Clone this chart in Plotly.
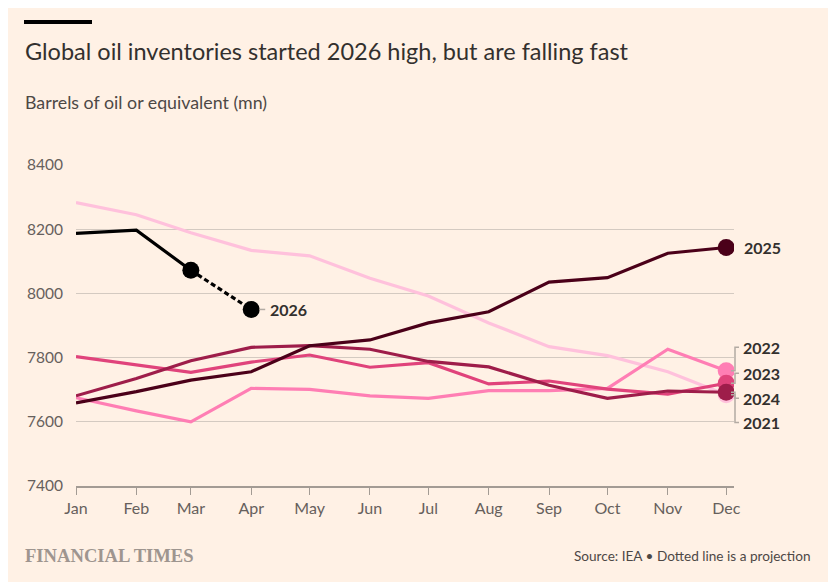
import plotly.graph_objects as go

# month axis (non-leap year so Feb is 28 days wide, like the original)
months = ['2021-01-01', '2021-02-01', '2021-03-01', '2021-04-01', '2021-05-01', '2021-06-01',
          '2021-07-01', '2021-08-01', '2021-09-01', '2021-10-01', '2021-11-01', '2021-12-01']

inv_2021 = [8283, 8245, 8189, 8134, 8117, 8047, 7992, 7908, 7834, 7806, 7756, 7684]
inv_2022 = [7675, 7634, 7600, 7704, 7701, 7681, 7673, 7697, 7697, 7704, 7826, 7759]
inv_2023 = [7803, 7777, 7754, 7786, 7808, 7770, 7784, 7718, 7727, 7702, 7686, 7720]
inv_2024 = [7681, 7735, 7790, 7832, 7837, 7826, 7788, 7771, 7714, 7673, 7696, 7692]
inv_2025 = [7659, 7694, 7730, 7756, 7837, 7855, 7908, 7943, 8035, 8049, 8125, 8143]
inv_2026 = [8187, 8197, 8072, 7950]  # Apr is a projection

years = ['2021', '2022', '2023', '2024', '2025']
values = [inv_2021, inv_2022, inv_2023, inv_2024, inv_2025]
colors = ['#ffc1dc', '#ff7eb4', '#e0437b', '#9e1d4a', '#4b0019']

# stacked end labels for the bunched-up years (label y in data units)
label_y = {'2022': 7832, '2023': 7751, '2024': 7673, '2021': 7598}

BG = '#fff1e5'
TEXT = '#33302e'
FONT = 'Lato'
CONNECT = '#b3aba3'

# page body has an 8px margin, so work in screen pixels and shift
OFF = 8
W, H = 836 - OFF, 582 - OFF
L, R, T, B = 76 - OFF, 734 - OFF, 165 - OFF, 486 - OFF


def px(x):
    return (x - OFF - L) / (R - L)


def py(y):
    return (B - (y - OFF)) / (B - T)


fig = go.Figure()

for yr, vals, col in zip(years, values, colors):
    fig.add_trace(go.Scatter(x=months, y=vals, mode='lines', name=yr,
                             line=dict(color=col, width=3.2), hoverinfo='skip'))
    fig.add_trace(go.Scatter(x=months[-1:], y=vals[-1:], mode='markers', showlegend=False,
                             marker=dict(color=col, size=17), hoverinfo='skip'))

# 2026: solid actuals, dotted projection
fig.add_trace(go.Scatter(x=months[:3], y=inv_2026[:3], mode='lines',
                         line=dict(color='#000000', width=3.2), hoverinfo='skip'))
fig.add_trace(go.Scatter(x=months[2:4], y=inv_2026[2:4], mode='lines',
                         line=dict(color='#000000', width=3.2, dash='5px,3px'), hoverinfo='skip'))
fig.add_trace(go.Scatter(x=months[2:4], y=inv_2026[2:4], mode='markers',
                         marker=dict(color='#000000', size=17), hoverinfo='skip'))

label_font = dict(family=FONT, size=16, color=TEXT)
shapes = []
annotations = []

# direct labels with short connectors for 2026 and 2025
for x, y, txt, sx in [(months[3], inv_2026[3], '2026', 17), (months[-1], inv_2025[-1], '2025', 16)]:
    shapes.append(dict(type='line', xref='x', yref='y', xsizemode='pixel', xanchor=x,
                       x0=8, x1=14, y0=y, y1=y, layer='above',
                       line=dict(color=CONNECT, width=1.5)))
    annotations.append(dict(x=x, y=y, xref='x', yref='y', text='<b>' + txt + '</b>', showarrow=False,
                            xanchor='left', yanchor='middle', xshift=sx, font=label_font))

# bracketed labels for the bunched years
for yr, vals in zip(years, values):
    if yr not in label_y:
        continue
    ly = label_y[yr]
    end = vals[-1]
    shapes.append(dict(type='path', xref='paper', yref='y', layer='above',
                       path=f'M {px(731)},{end} L {px(735)},{end} L {px(735)},{ly} L {px(739)},{ly}',
                       line=dict(color=CONNECT, width=1.5)))
    annotations.append(dict(x=months[-1], y=ly, xref='x', yref='y', text='<b>' + yr + '</b>',
                            showarrow=False, xanchor='left', yanchor='middle', xshift=15,
                            font=label_font))

# FT header bar
shapes.append(dict(type='rect', xref='paper', yref='paper', x0=px(24), x1=px(92),
                   y0=py(24), y1=py(20), fillcolor='#000000', line=dict(width=0)))

annotations += [
    dict(x=px(23), y=py(51), xref='paper', yref='paper', xanchor='left', yanchor='middle',
         showarrow=False, text='Global oil inventories started 2026 high, but are falling fast',
         font=dict(family=FONT, size=23.5, color=TEXT)),
    dict(x=px(23), y=py(102), xref='paper', yref='paper', xanchor='left', yanchor='middle',
         showarrow=False, text='Barrels of oil or equivalent (mn)',
         font=dict(family=FONT, size=17.8, color='#4d4845')),
    dict(x=px(23), y=py(555), xref='paper', yref='paper', xanchor='left', yanchor='middle',
         showarrow=False, text='<b>FINANCIAL TIMES</b>',
         font=dict(family='Liberation Serif', size=18.6, color='#9e958f')),
    dict(x=px(812), y=py(556), xref='paper', yref='paper', xanchor='right', yanchor='middle',
         showarrow=False, text='Source: IEA \u2022 Dotted line is a projection',
         font=dict(family=FONT, size=13.6, color='#4d4845')),
]

fig.update_layout(
    width=W, height=H,
    margin=dict(l=L, r=W - R, t=T, b=H - B),
    paper_bgcolor=BG, plot_bgcolor=BG,
    showlegend=False,
    font=dict(family=FONT, color='#66605c', size=15),
    shapes=shapes, annotations=annotations,
)
fig.update_xaxes(type='date', range=['2021-01-01', '2021-12-05'], tickvals=months,
                 tickformat='%b', showgrid=False, showline=True, linecolor='#a39b94', linewidth=1.5,
                 ticks='outside', ticklen=7, tickcolor='#a39b94', tickwidth=1,
                 tickfont=dict(family=FONT, size=16, color='#66605c'), zeroline=False)
fig.update_yaxes(range=[7400, 8400], dtick=200, showgrid=True, gridcolor='#d4cac1', gridwidth=1,
                 zeroline=False, showline=False, ticks='', ticklabelstandoff=12,
                 tickfont=dict(family=FONT, size=15.5, color='#66605c'))

fig.write_html('out.html')
